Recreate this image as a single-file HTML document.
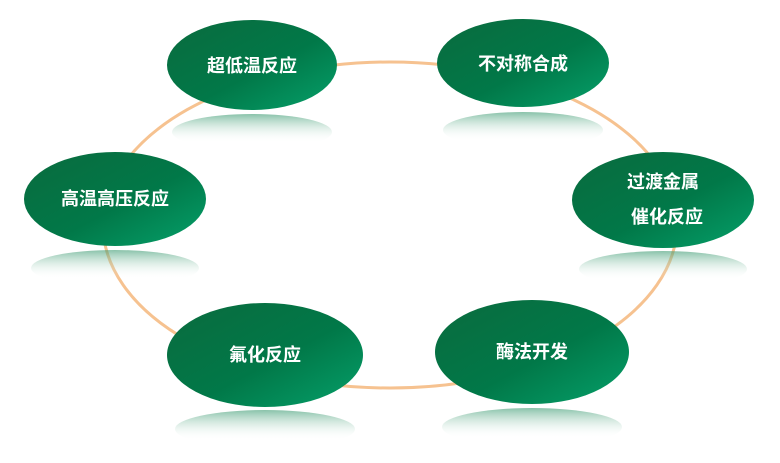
<!DOCTYPE html>
<html><head><meta charset="utf-8"><style>body{margin:0;background:#fff}svg{display:block}</style></head>
<body>
<svg width="780" height="463" viewBox="0 0 780 463" xmlns="http://www.w3.org/2000/svg">
<defs>
<linearGradient id="g" x1="0" y1="0" x2="1" y2="1">
<stop offset="0" stop-color="#0a6b3e"/><stop offset="0.55" stop-color="#017848"/><stop offset="1" stop-color="#05a06a"/>
</linearGradient>
<linearGradient id="r" x1="0" y1="0" x2="0" y2="1">
<stop offset="0" stop-color="#3a9a70" stop-opacity="0.6"/><stop offset="0.8" stop-color="#ffffff" stop-opacity="0"/>
</linearGradient>
</defs>
<ellipse cx="390" cy="225" rx="287" ry="163" fill="none" stroke="#f6c290" stroke-width="3"/>
<g font-family="'Liberation Sans','Noto Sans CJK SC',sans-serif" font-weight="bold" font-size="18" fill="#fff" text-anchor="middle">
<g><ellipse cx="252" cy="132" rx="80" ry="18" fill="url(#r)"/><ellipse cx="252" cy="65" rx="85" ry="45" fill="url(#g)"/><text x="252" y="72">超低温反应</text></g>
<g><ellipse cx="523" cy="130" rx="80" ry="18" fill="url(#r)"/><ellipse cx="523" cy="63" rx="86" ry="44" fill="url(#g)"/><text x="523" y="70">不对称合成</text></g>
<g><ellipse cx="663" cy="269" rx="84" ry="18" fill="url(#r)"/><ellipse cx="663" cy="200" rx="91" ry="48" fill="url(#g)"/><text x="663" y="188">过渡金属</text><text x="667" y="223">催化反应</text></g>
<g><ellipse cx="115" cy="268" rx="84" ry="18" fill="url(#r)"/><ellipse cx="115" cy="199" rx="91" ry="47" fill="url(#g)"/><text x="115" y="205">高温高压反应</text></g>
<g><ellipse cx="265" cy="429" rx="90" ry="19" fill="url(#r)"/><ellipse cx="265" cy="355" rx="98" ry="52" fill="url(#g)"/><text x="265" y="361">氟化反应</text></g>
<g><ellipse cx="532" cy="427" rx="90" ry="19" fill="url(#r)"/><ellipse cx="532" cy="352" rx="97" ry="52" fill="url(#g)"/><text x="532" y="358">酶法开发</text></g>
</g>
</svg>
</body></html>
